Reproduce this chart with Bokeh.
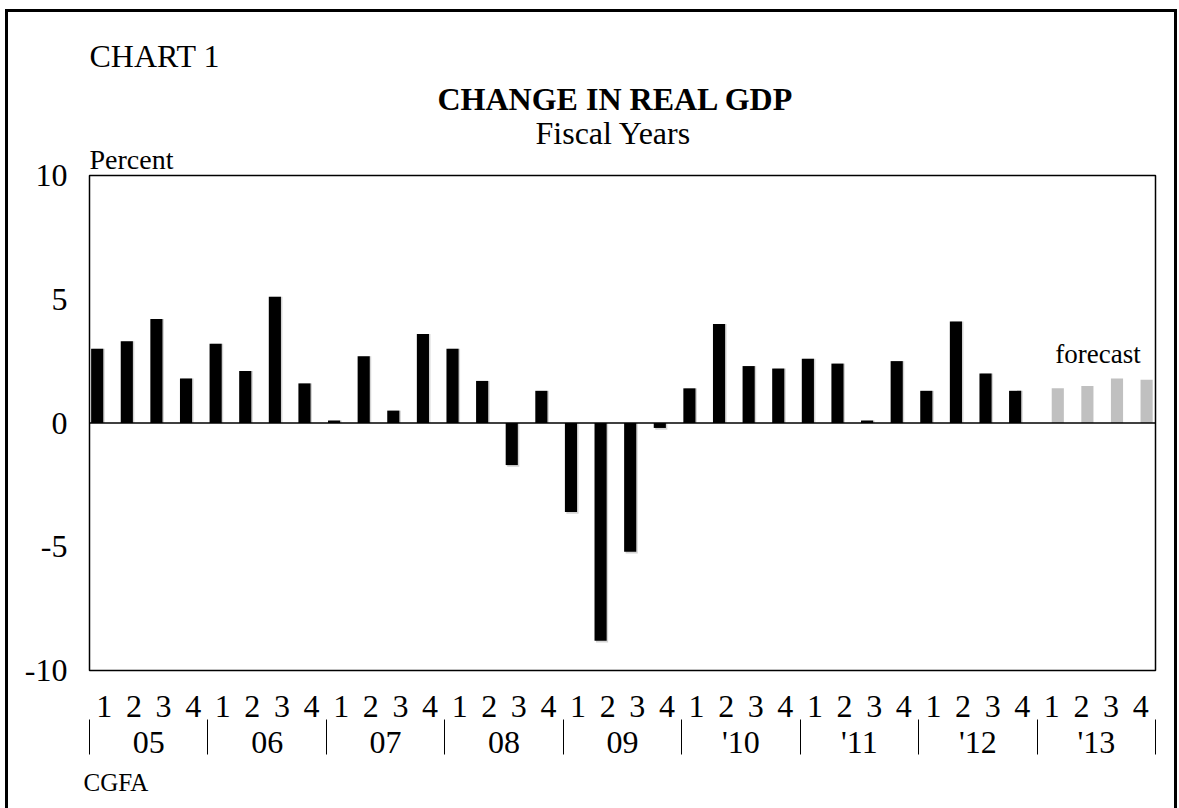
import numpy as np
from bokeh.plotting import figure
from bokeh.models import (Range1d, FixedTicker, LinearAxis, Span, Label, Title,
                          ColumnDataSource, InlineStyleSheet)
from bokeh.embed import file_html
from bokeh.resources import INLINE

# ---- data -------------------------------------------------------------
years = ["05", "06", "07", "08", "09", "'10", "'11", "'12", "'13"]
quarters = ["1", "2", "3", "4"]
actual = [3.0, 3.3, 4.2, 1.8,
          3.2, 2.1, 5.1, 1.6,
          0.1, 2.7, 0.5, 3.6,
          3.0, 1.7, -1.7, 1.3,
          -3.6, -8.8, -5.2, -0.2,
          1.4, 4.0, 2.3, 2.2,
          2.6, 2.4, 0.1, 2.5,
          1.3, 4.1, 2.0, 1.3]
forecast = [1.4, 1.5, 1.8, 1.75]
y_ticks = [-10, -5, 0, 5, 10]
y_tick_labels = ["-10", "-5", "0", "5", "10"]

FONT = "Liberation Serif"
n_q = len(actual) + len(forecast)

# ---- figure -----------------------------------------------------------
p = figure(width=1179, height=808, output_backend="svg", toolbar_location=None,
           x_range=Range1d(0, n_q), y_range=Range1d(-10, 10),
           min_border_left=89, min_border_right=24, min_border_top=175,
           min_border_bottom=138)
p.grid.visible = False
p.outline_line_color = "black"
p.outline_line_width = 1.5
p.background_fill_color = "white"
p.border_fill_color = "white"
p.title.text = ""

# outer decorative frame (CSS, does not affect layout)
p.stylesheets = [InlineStyleSheet(css=(
    ":host{position:relative;}"
    ":host::after{content:'';position:absolute;left:5px;top:9px;right:2px;"
    "bottom:0px;border:3px solid black;border-bottom:none;"
    "pointer-events:none;box-sizing:border-box;}"))]

# bars
idx = np.arange(len(actual))
act_x = idx + 0.26
act = np.array(actual)
src = ColumnDataSource(dict(x=act_x, top=act))
shadow = ColumnDataSource(dict(x=act_x + 0.05,
                               top=np.where(act > 0, act, 0.0),
                               bottom=np.where(act < 0, act - 0.07, 0.0)))
p.vbar(x="x", top="top", bottom="bottom", width=0.41, source=shadow,
       fill_color="#d4d4d4", line_color=None)
p.vbar(x="x", top="top", bottom=0, width=0.41, source=src,
       fill_color="black", line_color=None)
fc_x = len(actual) + np.arange(len(forecast)) + 0.70
p.vbar(x=fc_x, top=forecast, bottom=0, width=0.41,
       fill_color="#c0c0c0", line_color=None)

p.add_layout(Span(location=0, dimension="width", line_color="black",
                  line_width=1.5))

# y axis
ya = p.yaxis[0]
ya.ticker = FixedTicker(ticks=y_ticks)
ya.major_label_overrides = {t: l for t, l in zip(y_ticks, y_tick_labels)}
ya.major_tick_line_color = None
ya.minor_tick_line_color = None
ya.axis_line_color = None
ya.major_label_standoff = 16
ya.major_label_text_font = FONT
ya.major_label_text_font_size = "32px"
ya.major_label_text_color = "black"

# quarter axis
qa = p.xaxis[0]
q_ticks = [i + 0.5 for i in range(n_q)]
qa.ticker = FixedTicker(ticks=q_ticks)
qa.major_label_overrides = {t: quarters[i % 4] for i, t in enumerate(q_ticks)}
qa.major_tick_line_color = None
qa.major_tick_out = 0
qa.major_tick_in = 0
qa.minor_tick_line_color = None
qa.axis_line_color = None
qa.major_label_standoff = 25
qa.major_label_text_font = FONT
qa.major_label_text_font_size = "32px"
qa.major_label_text_color = "black"

# year axis
y_centers = [4 * k + 2 for k in range(len(years))]
y_bounds = [4 * k for k in range(len(years) + 1)]
ax2 = LinearAxis(ticker=FixedTicker(ticks=y_centers, minor_ticks=y_bounds))
ax2.major_label_overrides = {t: years[k] for k, t in enumerate(y_centers)}
ax2.major_tick_line_color = None
ax2.major_tick_out = 0
ax2.major_tick_in = 0
ax2.minor_tick_line_color = "black"
ax2.minor_tick_line_width = 1
ax2.minor_tick_out = 35
ax2.minor_tick_in = 0
ax2.axis_line_color = None
ax2.major_label_standoff = -31
ax2.major_label_text_font = FONT
ax2.major_label_text_font_size = "32px"
ax2.major_label_text_color = "black"
p.add_layout(ax2, "below")

# titles (stacked outward from the frame)
def add_title(text, size, style, standoff, offset, place="above"):
    p.add_layout(Title(text=text, text_font=FONT, text_font_size=size,
                       align="left", text_font_style=style, standoff=standoff,
                       offset=offset, text_color="black"), place)

add_title("Percent", "28px", "normal", 1, 0)
add_title("Fiscal Years", "32px", "normal", -18, 446)
add_title("CHANGE IN REAL GDP", "32px", "bold", 10, 348)
add_title("CHART 1", "32px", "normal", 0, 0)
add_title("CGFA", "25px", "normal", 8, -6, "below")

# in-plot text
p.add_layout(Label(x=34.06, y=2.80, text="forecast", text_font=FONT,
                   text_font_size="27px", text_align="center",
                   text_baseline="alphabetic", text_color="black"))

open("out.html", "w").write(file_html(p, INLINE))
